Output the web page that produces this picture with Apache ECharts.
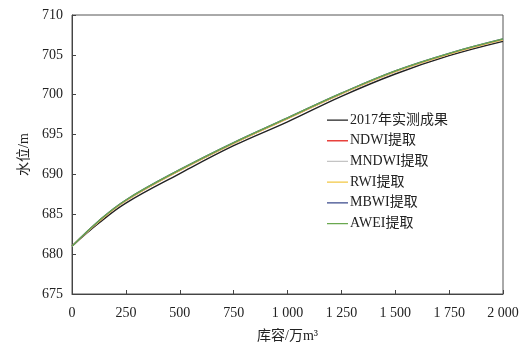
<!DOCTYPE html>
<html>
<head>
<meta charset="utf-8">
<script src="https://cdn.jsdelivr.net/npm/echarts@6/dist/echarts.min.js"></script>
<style>
  html, body { margin: 0; padding: 0; background: #fff; }
  #chart { width: 522px; height: 350px; }
</style>
</head>
<body>
<div id="chart"></div>
<script>
// Storage capacity (10^4 m^3) vs water level (m)
const capacity = [0, 125, 250, 500, 750, 1000, 1250, 1500, 1750, 2000];
const measured2017 = [681.0, 683.9, 686.4, 690.1, 693.6, 696.6, 699.8, 702.6, 704.9, 706.7];
const ndwi  = [681.0, 684.1, 686.7, 690.5, 693.9, 697.0, 700.1, 702.9, 705.1, 706.9];
const mndwi = [681.0, 684.1, 686.7, 690.5, 693.9, 697.0, 700.1, 702.9, 705.1, 706.9];
const rwi   = [681.0, 684.1, 686.7, 690.5, 693.9, 697.0, 700.1, 702.9, 705.1, 706.9];
const mbwi  = [681.0, 684.2, 686.8, 690.6, 694.0, 697.1, 700.2, 703.0, 705.2, 707.0];
const awei  = [681.0, 684.2, 686.8, 690.6, 694.0, 697.1, 700.2, 703.0, 705.2, 707.0];

const seriesNames = ['2017年实测成果', 'NDWI提取', 'MNDWI提取', 'RWI提取', 'MBWI提取', 'AWEI提取'];
const seriesColors = ['#222222', '#e8413c', '#c4c4c4', '#f2c744', '#3b4a8c', '#6aa84f'];
const seriesValues = [measured2017, ndwi, mndwi, rwi, mbwi, awei];

const serif = '"Liberation Serif", "Times New Roman", "Noto Sans CJK SC", serif';

// Legend key: a short horizontal stroke centred in a 21x14 box
const legendStroke = 'path://M0,0L0.01,0L0.01,0.01Z M0,6.4L21,6.4L21,7.7L0,7.7Z M0,14L0.01,14L0.01,13.99Z';

function thousands(v) {
  const s = String(v);
  return s.length > 3 ? s.slice(0, s.length - 3) + ' ' + s.slice(-3) : s;
}

const chart = echarts.init(document.getElementById('chart'), null, { renderer: 'canvas' });
chart.setOption({
  animation: false,
  backgroundColor: '#fff',
  grid: { left: 72, right: 19, top: 15, bottom: 56, show: true, borderColor: '#555', borderWidth: 1 },
  legend: {
    orient: 'vertical',
    left: 322, top: 108,
    icon: legendStroke,
    itemWidth: 21, itemHeight: 14, itemGap: 6.7,
    textStyle: { fontFamily: serif, fontSize: 14, color: '#222', padding: [0, 0, 0, -3] },
    data: seriesNames
  },
  xAxis: {
    type: 'value', min: 0, max: 2000, interval: 250,
    name: '库容/万m³', nameLocation: 'middle', nameGap: 35,
    nameTextStyle: { fontFamily: serif, fontSize: 14, color: '#222' },
    axisLine: { lineStyle: { color: '#444', width: 1 } },
    axisTick: { inside: true, length: 4, lineStyle: { color: '#444' } },
    axisLabel: { fontFamily: serif, fontSize: 14, color: '#222', margin: 12, formatter: thousands },
    splitLine: { show: false }
  },
  yAxis: {
    type: 'value', min: 675, max: 710, interval: 5,
    name: '水位/m', nameLocation: 'middle', nameGap: 40, nameRotate: 90,
    nameTextStyle: { fontFamily: serif, fontSize: 14, color: '#222' },
    axisLine: { show: true, lineStyle: { color: '#444', width: 1 } },
    axisTick: { show: true, inside: true, length: 4, lineStyle: { color: '#444' } },
    axisLabel: { fontFamily: serif, fontSize: 14, color: '#222', margin: 9 },
    splitLine: { show: false }
  },
  series: seriesNames.map((name, i) => ({
    name: name,
    type: 'line',
    smooth: 0.4,
    symbol: 'none',
    color: seriesColors[i],
    lineStyle: { width: i === 0 ? 1.4 : 1.3, color: seriesColors[i] },
    data: capacity.map((c, k) => [c, seriesValues[i][k]])
  }))
});
</script>
</body>
</html>
